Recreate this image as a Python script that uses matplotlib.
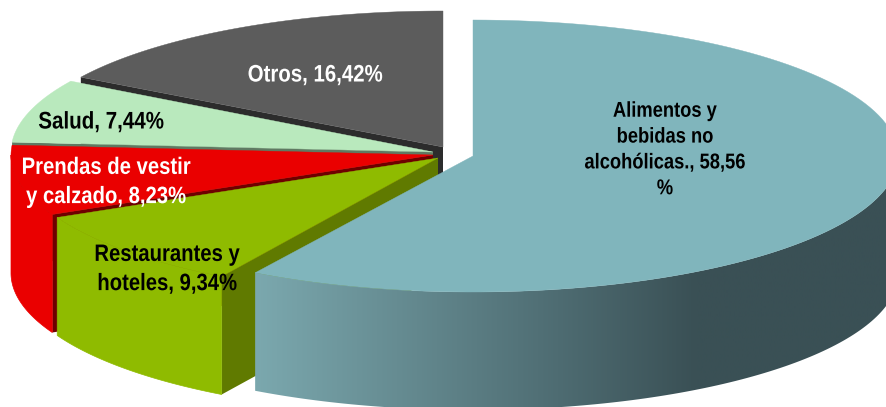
import numpy as np
import matplotlib
matplotlib.use('Agg')
import matplotlib.pyplot as plt
import matplotlib.patheffects as pe
from matplotlib.patches import Polygon
from matplotlib.colors import LinearSegmentedColormap
from matplotlib.transforms import Affine2D

# Datos del grafico (sentido horario desde las 12)
categorias = ['Alimentos y\nbebidas no\nalcohólicas., 58,56\n%',
              'Restaurantes y\nhoteles, 9,34%',
              'Prendas de vestir\ny calzado, 8,23%',
              'Salud, 7,44%',
              'Otros, 16,42%']
valores = [58.56, 9.34, 8.23, 7.44, 16.42]

colores = ['#80b5bc', '#8fbb00', '#ea0000', '#b9e9bd', '#5c5c5c']
colores_lado = ['#4a6a70', '#607a00', '#6e0000', '#5f7a62', '#2c2c2c']
colores_texto = ['black', 'black', 'white', 'black', 'white']

# Centro de cada porcion en pixeles (explosion manual)
centros = [(473, 156), (438, 158), (433, 155), (433, 152), (443, 147)]
radios_x = [425, 422, 422, 422, 422]
radios_y = [136, 138, 138, 138, 136]
pos_texto = [(665, 151), (167, 270), (106, 183), (101, 123), (315, 76)]
tam_texto = [13.2, 14.6, 14.6, 14.8, 14.7]
interlineado = [1.68, 1.68, 1.68, 1.2, 1.2]

ALTO = 118

plt.rcParams['font.family'] = ['Liberation Sans', 'DejaVu Sans']


class EstiraTexto(pe.AbstractPathEffect):
    # la letra del original es mas alta y estrecha
    def __init__(self, sy):
        super().__init__()
        self.sy = sy

    def draw_path(self, renderer, gc, tpath, affine, rgbFace=None):
        renderer.draw_path(gc, tpath, Affine2D().scale(1, self.sy) + affine, rgbFace)


fig = plt.figure(figsize=(8.86, 4.07), dpi=100)
ax = fig.add_axes([0, 0, 1, 1])
ax.set_xlim(0, 886)
ax.set_ylim(407, 0)
ax.axis('off')

total = sum(valores)
fracs = np.cumsum([0] + valores) / total * 2 * np.pi


def borde(i, a0, a1):
    t = np.linspace(a0, a1, 120)
    c = centros[i]
    return np.column_stack([c[0] + radios_x[i] * np.sin(t), c[1] - radios_y[i] * np.cos(t)])


def dibuja_porcion(i):
    c = centros[i]
    a0, a1 = fracs[i], fracs[i + 1]
    arco = borde(i, a0, a1)
    punta = np.array([c])

    # cara de corte inicial, visible solo en las porciones de la izquierda
    if i > 0:
        p0 = arco[0:1]
        cara = np.vstack([punta, p0, p0 + [0, ALTO], punta + [0, ALTO]])
        ax.add_patch(Polygon(cara, closed=True, fc=colores_lado[i], ec='none'))

    # pared exterior, solo la parte que mira hacia delante
    t0, t1 = max(a0, np.pi / 2), min(a1, 3 * np.pi / 2)
    if t1 > t0:
        frente = borde(i, t0, t1)
        pared = np.vstack([frente, frente[::-1] + [0, ALTO]])
        if i == 0:
            degradado = LinearSegmentedColormap.from_list(
                'lado', [(0, '#3a5055'), (0.3, '#3a5055'), (0.52, '#4e6c72'), (1, '#7ba8ae')])
            im = ax.imshow(np.linspace(0, 1, 256)[::-1].reshape(1, -1), cmap=degradado,
                           extent=(255, 886, 407, 0), aspect='auto', zorder=2)
            im.set_clip_path(Polygon(pared, closed=True, transform=ax.transData))
        else:
            ax.add_patch(Polygon(pared, closed=True, fc=colores[i], ec=colores[i], lw=0.5))

    ax.add_patch(Polygon(np.vstack([punta, arco]), closed=True, fc=colores[i], ec=colores[i],
                         lw=0.3, zorder=3 if i == 0 else 1))


# de atras hacia delante
for i in [4, 3, 2, 1, 0]:
    dibuja_porcion(i)

ax.set_xlim(0, 886)
ax.set_ylim(407, 0)

for i in range(len(valores)):
    ax.text(pos_texto[i][0], pos_texto[i][1], categorias[i], color=colores_texto[i],
            fontsize=tam_texto[i], fontweight='bold', ha='center', va='center',
            linespacing=interlineado[i], zorder=5,
            path_effects=[EstiraTexto(1.17)])

plt.savefig('out.png', dpi=100)
